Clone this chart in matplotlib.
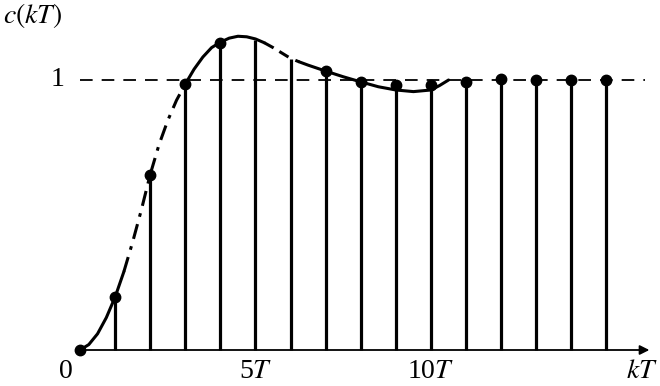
import matplotlib.pyplot as plt

plt.rcParams['font.family'] = ['Liberation Serif', 'DejaVu Serif']
plt.rcParams['mathtext.fontset'] = 'stix'

# sampled values c(kT), k = 0..15
k = list(range(16))
c = [0.0, 0.196, 0.65, 0.985, 1.137, 1.148, 1.078, 1.033, 0.993, 0.98, 0.98,
     0.993, 1.004, 1.0, 1.0, 1.0]
dots = [0, 1, 2, 3, 4, 7, 8, 9, 10, 11, 12, 13, 14, 15]  # samples drawn with a dot

# continuous response
t_curve = [0, 0.25, 0.5, 0.75, 1.0, 1.25, 1.5, 1.75, 2.0, 2.25, 2.5, 2.75, 3.0,
           3.25, 3.5, 3.75, 4.0, 4.25, 4.5, 4.75, 5.0, 5.25, 5.5, 5.75, 6.0, 6.25,
           6.5, 7.0, 7.5, 8.0, 8.5, 9.0, 9.5, 10.0, 10.25, 10.5]
c_curve = [0, 0.02, 0.06, 0.12, 0.196, 0.29, 0.40, 0.52, 0.65, 0.76, 0.85, 0.925, 0.985,
           1.04, 1.085, 1.12, 1.14, 1.155, 1.162, 1.16, 1.152, 1.138, 1.12, 1.10, 1.08,
           1.067, 1.055, 1.033, 1.012, 0.993, 0.975, 0.963, 0.957, 0.963, 0.98, 1.0]

# line style pieces along the curve: (t start, t end, style)
pieces = [(0, 1.25, '-'), (1.25, 3.0, (0, (5, 2.5, 1.2, 2.5))), (3.0, 5.25, '-'),
          (5.25, 6.25, (0, (3.5, 2.2, 3.5, 2.5, 20, 1))), (6.25, 10.5, '-')]

fig = plt.figure(figsize=(6.6, 3.86), dpi=100)
ax = fig.add_axes([0, 0, 1, 1])
ax.set_xlim(-80 / 35.1, 580 / 35.1)
ax.set_ylim(-36 / 270, 350 / 270)
ax.axis('off')

# axes with arrows
ax.annotate('', xy=(16.3, 0), xytext=(0, 0),
            arrowprops=dict(arrowstyle='-|>', color='black', lw=1.3, mutation_scale=14))
ax.annotate('', xy=(0, 1.3), xytext=(0, 0),
            arrowprops=dict(arrowstyle='-|>', color='black', lw=1.3, mutation_scale=14))

# reference level 1
ax.plot([0, 16.1], [1, 1], color='black', lw=1.3, linestyle=(0, (7, 5)))

# stems
ax.vlines(k[1:], 0, c[1:], color='black', lw=2.3)

# continuous curve in pieces
for a, b, ls in pieces:
    tt = [t for t in t_curve if a <= t <= b]
    cc = [c_curve[i] for i, t in enumerate(t_curve) if a <= t <= b]
    ax.plot(tt, cc, color='black', lw=2.2, linestyle=ls, solid_capstyle='round')

ax.plot([k[i] for i in dots], [c[i] for i in dots], 'o', color='black', markersize=7.5)

fs = 20
ax.text(-0.45, 1, '1', fontsize=fs, ha='right', va='center')
ax.text(-0.4, -0.08, '0', fontsize=fs, ha='center', va='center')
ax.text(5, -0.08, '5$T$', fontsize=fs, ha='center', va='center')
ax.text(10, -0.08, '10$T$', fontsize=fs, ha='center', va='center')
ax.text(16.0, -0.08, '$kT$', fontsize=fs, ha='center', va='center')
ax.text(-2.2, 1.24, '$c(kT)$', fontsize=fs, ha='left', va='center')

fig.savefig('out.png', dpi=100)
